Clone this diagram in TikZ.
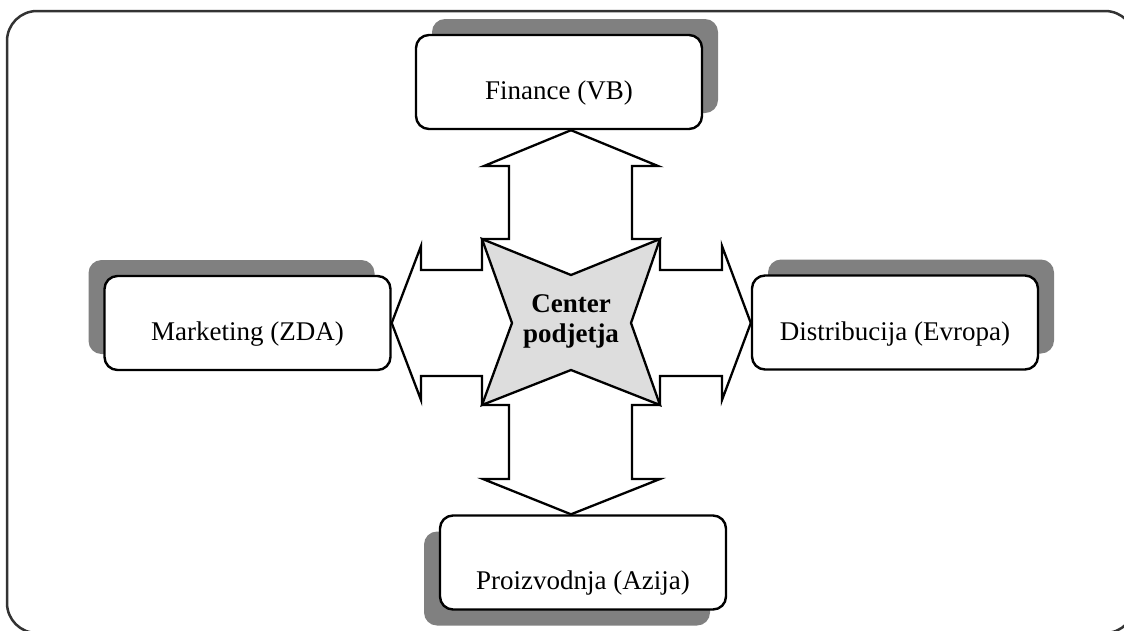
\documentclass[tikz,border=0pt]{standalone}
\usepackage{fontspec}
\setmainfont{Liberation Serif}
\usetikzlibrary{shadows,calc}
\definecolor{frameline}{HTML}{333333}
\definecolor{shadowgray}{HTML}{808080}
\definecolor{starfill}{HTML}{DDDDDD}

\begin{document}
\begin{tikzpicture}[x=1pt,y=-1pt,
  unitbox/.style={draw=black, line width=2.4pt, fill=white, rounded corners=13pt,
    minimum width=286pt, minimum height=94pt, inner sep=0pt},
  shadowUR/.style={general shadow={shadow xshift=16pt, shadow yshift=16pt, fill=shadowgray, draw=none}},
  shadowUL/.style={general shadow={shadow xshift=-16pt, shadow yshift=16pt, fill=shadowgray, draw=none}},
  shadowDL/.style={general shadow={shadow xshift=-16pt, shadow yshift=-16pt, fill=shadowgray, draw=none}},
  lbl/.style={anchor=base, inner sep=0pt, font=\fontsize{27}{30}\selectfont},
  hubtext/.style={align=center, inner sep=0pt, font=\fontsize{27}{30}\selectfont\bfseries},
  outline/.style={draw=black, line width=2.3pt, line join=miter},
]
\useasboundingbox (0,0) rectangle (1124,630);
\clip (0,0) rectangle (1124,630);

% outer frame
\draw[frameline, line width=2.5pt, rounded corners=30pt] (7,11) rectangle (1135,633);

% the four units
\node[unitbox, shadowUR] (fin)   at (559,82)    {};
\node[unitbox, shadowUL] (mkt)   at (247.5,323) {};
\node[unitbox, shadowUR] (dist)  at (895,322.5) {};
\node[unitbox, shadowDL] (proiz) at (583,562.5) {};

\node[lbl] (finlbl)   at ($(fin.center)+(0,17)$)   {Finance (VB)};
\node[lbl] (mktlbl)   at ($(mkt.center)+(0,17)$)   {Marketing (ZDA)};
\node[lbl] (distlbl)  at ($(dist.center)+(0,17.5)$) {Distribucija (Evropa)};
\node[lbl] (proizlbl) at ($(proiz.center)+(0,27)$) {Proizvodnja (Azija)};

% centre of the hub
\coordinate (c) at (571,323);

% four-way arrow linking the hub with every unit
\filldraw[outline, fill=white]
  (c |- fin.south) -- (658,166) -- (632,166) -- (632,239) -- (660,239) -- (660,270)
  -- (722,270) -- (722,246) -- (dist.west |- c) -- (722,400) -- (722,376)
  -- (660,376) -- (660,405) -- (632,405) -- (632,479) -- (660,479)
  -- (c |- proiz.north) -- (483,479) -- (509,479) -- (509,405) -- (482,405)
  -- (482,376) -- (421,376) -- (421,400) -- (mkt.east |- c) -- (421,246)
  -- (421,270) -- (482,270) -- (482,239) -- (509,239) -- (509,166) -- (484,166)
  -- cycle;

% four-pointed star of the hub
\filldraw[outline, fill=starfill]
  (482,239) -- (571,275) -- (660,239) -- (631,323) -- (660,405)
  -- (571,370) -- (482,405) -- (512,323) -- cycle;
\node[hubtext] (hub) at (571,321) {Center\\podjetja};
\end{tikzpicture}
\end{document}
